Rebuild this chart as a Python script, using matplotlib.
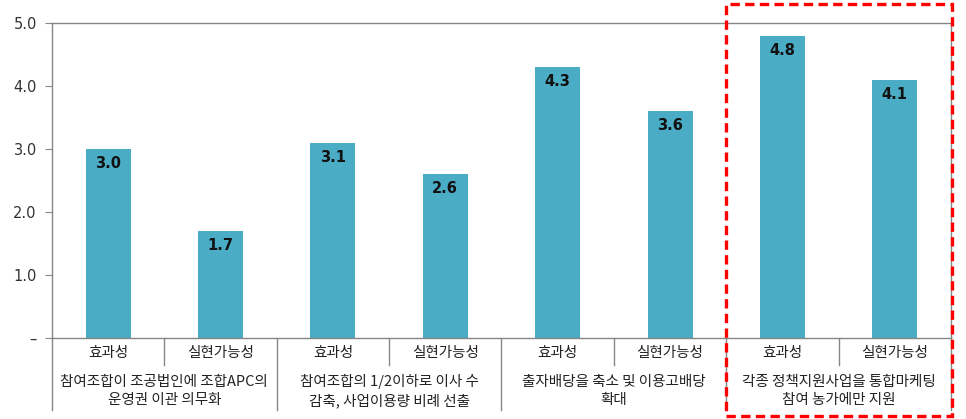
import matplotlib.pyplot as plt
import numpy as np
from matplotlib.patches import Rectangle

plt.rcParams['font.family'] = ['Noto Sans CJK KR', 'DejaVu Sans']

# 항목별 평가 점수
groups = [
    "참여조합이 조공법인에 조합APC의\n운영권 이관 의무화",
    "참여조합의 1/2이하로 이사 수\n감축, 사업이용량 비례 선출",
    "출자배당을 축소 및 이용고배당\n확대",
    "각종 정책지원사업을 통합마케팅\n참여 농가에만 지원",
]
subs = ["효과성", "실현가능성"]
values = [3.0, 1.7, 3.1, 2.6, 4.3, 3.6, 4.8, 4.1]
yticks = [0, 1, 2, 3, 4, 5]
ytick_labels = ["–", "1.0", "2.0", "3.0", "4.0", "5.0"]

bar_color = "#4BACC6"
grid_gray = "#868686"

fig = plt.figure(figsize=(9.66, 4.19), dpi=100)
ax = fig.add_axes([52 / 966, 1 - 338 / 419, (951 - 52) / 966, (338 - 23) / 419])

x = np.arange(len(values))
ax.bar(x, values, width=0.4, color=bar_color, zorder=2)
for xi, v in zip(x, values):
    ax.annotate(f"{v:.1f}", (xi, v), xytext=(0, -10.5), textcoords="offset points",
                ha="center", va="center", fontsize=10.5, color="#111111",
                fontweight="semibold", family="DejaVu Sans")

ax.set_xlim(-0.5, len(values) - 0.5)
ax.set_ylim(0, 5)
ax.set_yticks(yticks)
ax.set_yticklabels(ytick_labels, fontsize=10.5, color="#333333", family="DejaVu Sans")
ax.set_xticks([])
ax.tick_params(axis="y", length=5, color=grid_gray, pad=6)
for s in ax.spines.values():
    s.set_color(grid_gray)
    s.set_linewidth(1)

# 하위 범주 라벨 및 구분선
trans = ax.get_xaxis_transform()
px = 1 / 315  # one pixel in axes-y units
for i, xi in enumerate(x):
    ax.text(xi, -15 * px, subs[i % 2], transform=trans, ha="center", va="center",
            fontsize=10.5, color="#222222")
for g, label in enumerate(groups):
    ax.text(2 * g + 0.5, -53 * px, label, transform=trans, ha="center", va="center",
            fontsize=10.5, color="#222222", linespacing=1.35)
    ax.plot([2 * g + 0.5] * 2, [0, -27 * px], transform=trans, color=grid_gray,
            lw=1, clip_on=False)
for b in range(len(groups) + 1):
    ax.plot([2 * b - 0.5] * 2, [0, -72 * px], transform=trans, color=grid_gray,
            lw=1, clip_on=False)

# 강조 박스
fig.patches.append(Rectangle((726 / 966, 3 / 419), (952 - 726) / 966, (415 - 3) / 419,
                             transform=fig.transFigure, fill=False, ec="#FF0000",
                             lw=2.4, ls=(0, (2.8, 1.6))))

fig.savefig("out.png", dpi=100)
